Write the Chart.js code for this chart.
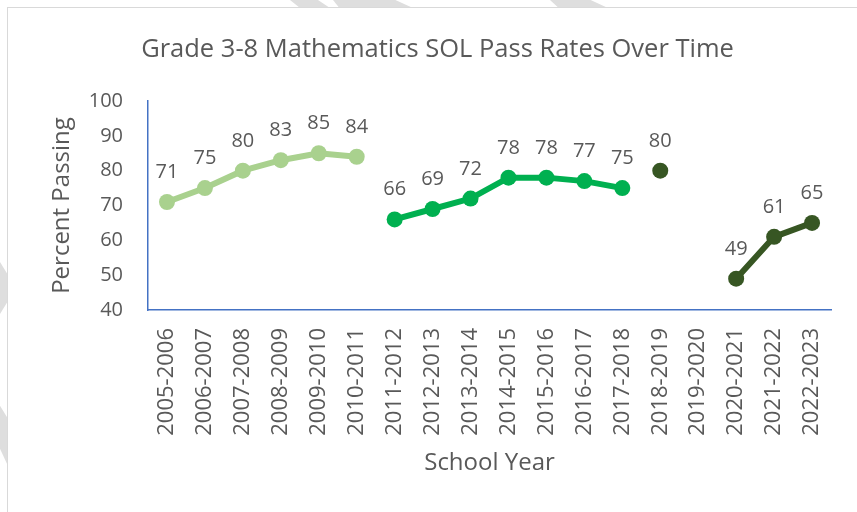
<!DOCTYPE html>
<html>
<head>
<meta charset="utf-8">
<script src="https://cdn.jsdelivr.net/npm/chart.js@4"></script>
<style>
  html, body { margin: 0; padding: 0; background: #ffffff; }
  #wrap { position: relative; width: 857px; height: 512px; overflow: hidden; background: #ffffff; }
  .frame { position: absolute; left: 7px; top: 7px; right: -2px; bottom: -2px; border-top: 1px solid #d9d9d9; border-left: 1px solid #d9d9d9; }
  .wm { position: absolute; background: #dedede; }
  canvas { position: absolute; left: 0; top: 0; }
</style>
</head>
<body>
<div id="wrap">
  <div class="wm" style="left:290px;top:0;width:40px;height:8px;clip-path:polygon(0 0,70% 0,100% 100%,25% 100%);"></div>
  <div class="wm" style="left:333px;top:0;width:80px;height:8px;clip-path:polygon(0 0,78% 0,100% 100%,8% 100%);"></div>
  <div class="wm" style="left:550px;top:0;width:58px;height:8px;clip-path:polygon(0 0,70% 0,100% 100%,15% 100%);"></div>
  <div class="wm" style="left:0;top:262px;width:8px;height:52px;clip-path:polygon(0 0,100% 25%,100% 75%,0 100%);"></div>
  <div class="wm" style="left:0;top:380px;width:8px;height:86px;clip-path:polygon(0 30%,100% 45%,100% 100%,0 80%);"></div>
  <div class="frame"></div>
  <canvas id="c" width="857" height="512"></canvas>
</div>
<script>
const categories = ["2005-2006","2006-2007","2007-2008","2008-2009","2009-2010","2010-2011","2011-2012","2012-2013","2013-2014","2014-2015","2015-2016","2016-2017","2017-2018","2018-2019","2019-2020","2020-2021","2021-2022","2022-2023"];
const series1 = [71,75,80,83,85,84,null,null,null,null,null,null,null,null,null,null,null,null];
const series2 = [null,null,null,null,null,null,66,69,72,78,78,77,75,null,null,null,null,null];
const series3 = [null,null,null,null,null,null,null,null,null,null,null,null,null,80,null,49,61,65];
const yTicks = [40,50,60,70,80,90,100];

const TEXT = '#595959';
const FONT = "'Open Sans', 'DejaVu Sans', sans-serif";

const labelPlugin = {
  id: 'pointLabels',
  afterDatasetsDraw(chart) {
    const ctx = chart.ctx;
    ctx.save();
    ctx.font = "20px " + FONT;
    ctx.fillStyle = TEXT;
    ctx.textAlign = 'center';
    ctx.textBaseline = 'alphabetic';
    chart.data.datasets.forEach((ds, i) => {
      const meta = chart.getDatasetMeta(i);
      meta.data.forEach((pt, j) => {
        const v = ds.data[j];
        if (v === null || v === undefined) return;
        ctx.fillText(String(v), pt.x, pt.y - 24);
      });
    });
    ctx.restore();
  }
};

function mk(data, color) {
  return {
    data: data,
    borderColor: color,
    backgroundColor: color,
    borderWidth: 6,
    pointRadius: 8,
    pointHoverRadius: 8,
    pointBorderWidth: 0,
    pointBackgroundColor: color,
    spanGaps: false,
    tension: 0
  };
}

new Chart(document.getElementById('c'), {
  type: 'line',
  data: {
    labels: categories,
    datasets: [mk(series1, '#a9d18e'), mk(series2, '#00b050'), mk(series3, '#375623')]
  },
  options: {
    responsive: false,
    animation: false,
    events: [],
    layout: { padding: { left: 38, right: 20, top: 0, bottom: 0 } },
    plugins: {
      legend: { display: false },
      tooltip: { enabled: false },
      title: {
        display: true,
        text: 'Grade 3-8 Mathematics SOL Pass Rates Over Time',
        color: TEXT,
        font: { family: FONT, size: 25.5, weight: 'normal', lineHeight: 1.2 },
        padding: { top: 34.7, bottom: 35.7 }
      }
    },
    scales: {
      x: {
        type: 'category',
        offset: true,
        grid: { display: false, drawTicks: false },
        border: { display: true, color: '#4472c4', width: 1.5 },
        ticks: {
          autoSkip: false,
          minRotation: 90,
          maxRotation: 90,
          padding: 18,
          color: TEXT,
          font: { family: FONT, size: 22 }
        },
        title: {
          display: true,
          text: 'School Year',
          color: TEXT,
          font: { family: FONT, size: 24, lineHeight: 1.2 },
          padding: { top: 0, bottom: 34.6 }
        },
        afterFit(scale) { scale.height = 202; }
      },
      y: {
        min: 40,
        max: 100,
        grid: { display: false, drawTicks: false },
        border: { display: true, color: '#4472c4', width: 1.5 },
        afterBuildTicks(scale) { scale.ticks = yTicks.map(v => ({ value: v })); },
        ticks: {
          padding: 25,
          color: TEXT,
          font: { family: FONT, size: 20 }
        },
        title: {
          display: true,
          text: 'Percent Passing',
          color: TEXT,
          font: { family: FONT, size: 24, lineHeight: 1.2 },
          padding: { top: 9.6, bottom: 0 }
        },
        afterFit(scale) { scale.width = 110; }
      }
    }
  },
  plugins: [labelPlugin]
});
</script>
</body>
</html>
